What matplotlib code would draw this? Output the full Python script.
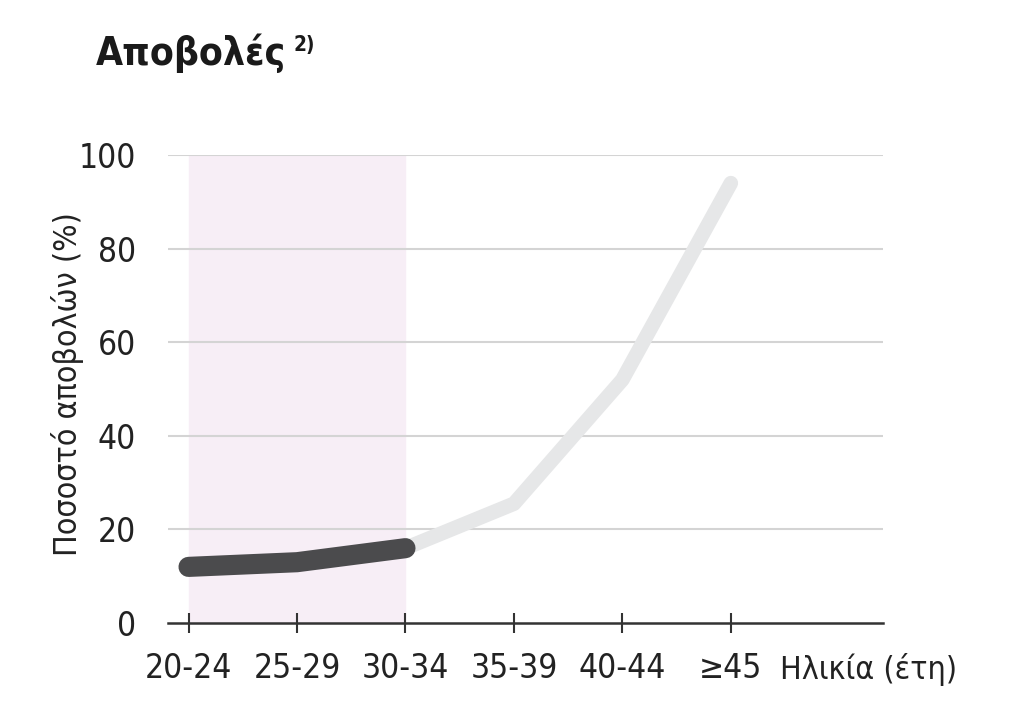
import matplotlib
matplotlib.use("Agg")
import matplotlib.pyplot as plt
from matplotlib import font_manager

# data
age_groups = ["20-24", "25-29", "30-34", "35-39", "40-44", "≥45"]
miscarriage_pct = [12.0, 13.0, 16.0, 25.5, 52.0, 94.0]
highlight_end = 2  # 30-34, end of the highlighted age band
y_ticks = [0, 20, 40, 60, 80, 100]

# use a condensed face if one is installed (reference uses a narrow font)
condensed = [f for f in font_manager.fontManager.ttflist
             if "Condensed" in f.fname or "Narrow" in f.fname]
if any("DejaVuSansCondensed" in f.fname for f in condensed):
    plt.rcParams["font.family"] = ["DejaVu Sans"]
    plt.rcParams["font.stretch"] = "condensed"
    fs = 24
elif condensed:
    plt.rcParams["font.family"] = [condensed[0].name, "DejaVu Sans"]
    fs = 24
else:
    plt.rcParams["font.family"] = ["DejaVu Sans"]
    fs = 21

fig = plt.figure(figsize=(10.24, 7.08), dpi=100)
ax = fig.add_axes([0.164, 0.12, 0.698, 0.661])

x = list(range(len(age_groups)))

# shaded band
ax.axvspan(0, highlight_end, color="#f7eef6", zorder=0)

# grid
for v in y_ticks[1:]:
    ax.axhline(v, color="#d4d4d4", lw=1.5, zorder=1)

# light part then dark part
ax.plot(x[highlight_end:], miscarriage_pct[highlight_end:], color="#e6e7e8",
        lw=10.5, solid_capstyle="round", solid_joinstyle="round", zorder=2)
ax.plot(x[:highlight_end + 1], miscarriage_pct[:highlight_end + 1], color="#4b4b4d",
        lw=14.5, solid_capstyle="round", solid_joinstyle="round", zorder=3)

ax.set_xlim(-0.19, 6.4)
ax.set_ylim(0, 100)
ax.set_xticks(x)
ax.set_xticklabels(age_groups)
ax.set_yticks(y_ticks)

for s in ["top", "right", "left"]:
    ax.spines[s].set_visible(False)
ax.spines["bottom"].set_color("#333333")
ax.spines["bottom"].set_linewidth(1.8)
ax.tick_params(axis="x", direction="inout", length=14, width=1.5, color="#333333",
               labelsize=fs, pad=14, labelcolor="#222222")
ax.tick_params(axis="y", length=0, labelsize=fs, pad=23, labelcolor="#222222")

ax.set_ylabel("Ποσοστό αποβολών (%)", fontsize=fs - 1, color="#222222")
ax.yaxis.set_label_coords(-0.118, 0.51)

fig.text(0.762, 0.055, "Ηλικία (έτη)", fontsize=fs - 1, color="#222222", va="center", ha="left")
title = fig.text(0.094, 0.925, "Αποβολές", fontsize=fs + 4, fontweight="bold",
                 color="#1a1a1a", va="center")
ax.annotate("2)", xy=(1, 1), xycoords=title, xytext=(5, -1), textcoords="offset points",
            fontsize=fs * 0.62, fontweight="bold", color="#1a1a1a", va="top", ha="left",
            annotation_clip=False)

fig.savefig("out.png", dpi=100, facecolor="white")
